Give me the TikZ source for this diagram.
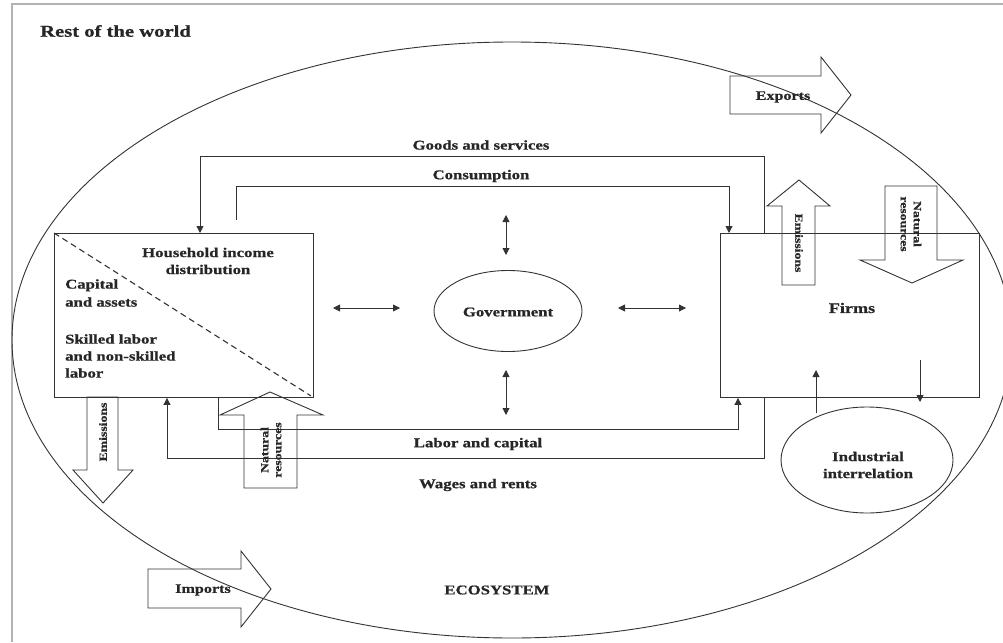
\documentclass[tikz,border=0pt]{standalone}
\usepackage{fontspec}
\setmainfont{Liberation Serif}[FakeStretch=1.25, BoldFeatures={FakeBold=0.8}]
\usetikzlibrary{arrows.meta,shapes.geometric}
\begin{document}
\begin{tikzpicture}[x=1pt,y=-1pt,
  ln/.style={draw=black!80, line width=0.9pt},
  tip/.style={-{Triangle[length=7pt,width=7pt]}},
  dtip/.style={{Triangle[length=7pt,width=7pt]}-{Triangle[length=7pt,width=7pt]}},
  lbl/.style={font=\fontsize{13.4}{17}\selectfont\bfseries, inner sep=0pt, text=black!85},
  slbl/.style={font=\fontsize{11}{13}\selectfont\bfseries, inner sep=0pt, text=black!85, align=center},
  boxnode/.style={ln, minimum width=259pt, minimum height=164pt, anchor=north west, inner sep=0pt},
  blk/.style={ln, line join=miter}
]
\useasboundingbox (0,0) rectangle (1003,642);
% frame
\draw[gray!60, line width=2.2pt] (12,642) -- (12,4) -- (1003,4);
\node[lbl, font=\fontsize{16.5}{18}\selectfont\bfseries, anchor=west] (rest) at (40,31) {Rest of the world};

% big ecosystem ellipse
\draw[ln] (512,340) ellipse [x radius=500pt, y radius=298pt];
\node[lbl] (eco) at (497,590) {ECOSYSTEM};

% household box
\node[boxnode] (hh) at (54,233) {};
\draw[ln, dashed, dash pattern=on 6pt off 4pt, line width=1.1pt] (hh.north west) -- ([xshift=-3pt,yshift=2pt]hh.south east);
\node[lbl, align=center] (hht) at (208,261) {Household income\\distribution};
\node[lbl, align=left, anchor=west] (cap) at (65,293) {Capital\\[1pt]and assets};
\node[lbl, align=left, anchor=west] (skl) at (65,356) {Skilled labor\\and non-skilled\\labor};

% firms box
\node[boxnode] (firms) at (720,233) {};
\node[lbl, font=\fontsize{14.5}{17}\selectfont\bfseries] (firmst) at (852,308) {Firms};

% government
\node[ln, ellipse, minimum width=148pt, minimum height=81pt, inner sep=0pt] (gov) at (508,311) {};
\node[lbl] (govt) at (508,312) {Government};

% industrial interrelation
\node[ln, ellipse, minimum width=172pt, minimum height=106pt, inner sep=0pt] (ind) at (867,460) {};
\node[lbl, align=center] (indt) at (868,465) {Industrial\\interrelation};

% goods and services
\draw[ln,tip] ([xshift=44pt]firms.north west) -- ++(0,-77) -| ([xshift=146pt]hh.north west);
\node[lbl] (gst) at (481,145) {Goods and services};
% consumption
\coordinate (cs) at (236,220);
\draw[ln,tip] (cs) -- ++(0,-34) -| ([xshift=9pt]firms.north west);
\node[lbl] (cst) at (481,176) {Consumption};
% labor and capital
\draw[ln,tip] ([xshift=164pt]hh.south west) -- ++(0,32) -| ([xshift=18pt]firms.south west);
\node[lbl] (lct) at (478,444) {Labor and capital};
% wages and rents
\draw[ln,tip] ([xshift=44pt]firms.south west) -- ++(0,61) -| ([xshift=113pt]hh.south west);
\node[lbl] (wrt) at (478,485) {Wages and rents};

% double arrows around government
\coordinate (ga1) at (506,215); \coordinate (ga2) at (506,255);
\coordinate (gb1) at (506,370); \coordinate (gb2) at (506,415);
\coordinate (gc1) at (333,308); \coordinate (gc2) at (400,308);
\coordinate (gd1) at (618,308); \coordinate (gd2) at (686,308);
\draw[ln,dtip] (ga1) -- (ga2);
\draw[ln,dtip] (gb1) -- (gb2);
\draw[ln,dtip] (gc1) -- (gc2);
\draw[ln,dtip] (gd1) -- (gd2);

% firms <-> industrial
\coordinate (iu1) at (816,413); \coordinate (iu2) at (816,370);
\coordinate (id1) at (920,360); \coordinate (id2) at (920,402);
\draw[ln,tip] (iu1) -- (iu2);
\draw[ln,tip] (id1) -- (id2);

% exports
\draw[blk] (730,76) -- (821,76) -- (821,57) -- (851,95) -- (821,133) -- (821,114) -- (730,114) -- cycle;
\node[lbl, font=\fontsize{12.9}{15}\selectfont\bfseries] (ext) at (783,97) {Exports};
% imports
\draw[blk] (148,569) -- (241,569) -- (241,551) -- (271,589) -- (241,627) -- (241,608) -- (148,608) -- cycle;
\node[lbl, font=\fontsize{12.9}{15}\selectfont\bfseries] (imt) at (203,590) {Imports};

% firms emissions (up)
\draw[blk] (782,285) -- (782,206) -- (767,206) -- (799,180) -- (830,206) -- (815,206) -- (815,285) -- cycle;
\node[slbl, rotate=-90] (fem) at (799,243) {Emissions};
% firms natural resources (down)
\draw[blk] (885,186) -- (937,186) -- (937,260) -- (963,260) -- (912,283) -- (860,260) -- (885,260) -- cycle;
\node[slbl, rotate=-90] (fnr) at (911,224) {Natural\\resources};
% household natural resources (up)
\draw[blk] (244,488) -- (244,415) -- (220,415) -- (270,392) -- (323,415) -- (297,415) -- (297,488) -- cycle;
\node[slbl, rotate=90] (hnr) at (271,450) {Natural\\resources};
% household emissions (down)
\draw[blk] (87,397) -- (118,397) -- (118,470) -- (133,470) -- (103,503) -- (73,470) -- (87,470) -- cycle;
\node[slbl, rotate=90] (hem) at (103,432) {Emissions};
\end{tikzpicture}
\end{document}
